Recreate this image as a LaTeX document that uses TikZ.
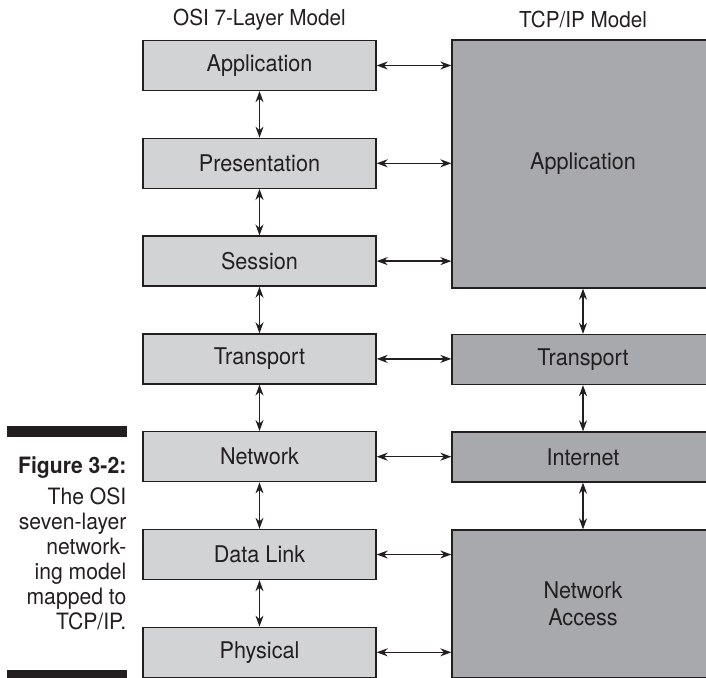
\documentclass[tikz,border=0pt]{standalone}
\usepackage{fontspec}
\setmainfont{TeX Gyre Heros}[FakeStretch=0.94]
\usetikzlibrary{arrows.meta}
\definecolor{osigray}{HTML}{D1D3D4}
\definecolor{tcpgray}{HTML}{A7A9AC}
\definecolor{ink}{HTML}{231F20}
\begin{document}
\begin{tikzpicture}[x=1pt, y=-1pt, line width=1.3pt, ink,
    osi/.style={draw, fill=osigray, minimum width=233pt, minimum height=50pt, inner sep=0pt, font=\fontsize{23}{27}\selectfont},
    tcp/.style={draw, fill=tcpgray, minimum width=262pt, inner sep=0pt, align=center, font=\fontsize{23}{27}\selectfont},
    head/.style={font=\fontsize{22}{26}\selectfont},
    capline/.style={anchor=base east, inner sep=0pt, font=\fontsize{22.5}{25}\selectfont},
    link/.style={{Stealth[length=11pt,width=8pt,inset=3.5pt]}-{Stealth[length=11pt,width=8pt,inset=3.5pt]}}]
\useasboundingbox (0,0) rectangle (706,677);
\clip (0,0) rectangle (706,677);
% column heads
\node[head] (osihead) at (259.5,20) {OSI 7-Layer Model};
\node[head] (tcphead) at (583,20) {TCP/IP Model};
% OSI layers
\foreach \k/\t in {0/Application, 1/Presentation, 2/Session, 3/Transport, 4/Network, 5/Data Link, 6/Physical}
    \node[osi] (L\k) at (259.5, 65.5+97.8*\k) {\t};
% TCP/IP layers
\node[tcp, minimum height=248pt] (RApp) at (583,164) {Application};
\node[tcp, minimum height=50pt] (RTr) at (583,359.5) {Transport};
\node[tcp, minimum height=50pt] (RIn) at (583,457) {Internet};
\node[tcp, minimum height=148pt] (RNA) at (583,604) {Network\\Access};
% arrows
\foreach \i/\j in {0/1, 1/2, 2/3, 3/4, 4/5, 5/6}
    \draw[link] (L\i.south) -- (L\j.north);
\foreach \i/\j in {RApp/RTr, RTr/RIn, RIn/RNA}
    \draw[link] (\i.south) -- (\j.north);
\foreach \k/\r in {0/RApp, 1/RApp, 2/RApp, 3/RTr, 4/RIn, 5/RNA, 6/RNA}
    \draw[link] (L\k.east) -- (L\k.east -| \r.west);
% caption
\fill (7,426) rectangle (127,437);
\fill (7,670) rectangle (127,680);
\node[capline, font=\fontsize{22.5}{25}\selectfont\bfseries] (figno) at (127,473) {Figure 3-2:};
\foreach \t [count=\i] in {The OSI, seven-layer, network-, ing model, mapped to, TCP/IP.}
    \node[capline] (cap\i) at (127, 479+25*\i) {\t};
\end{tikzpicture}
\end{document}
